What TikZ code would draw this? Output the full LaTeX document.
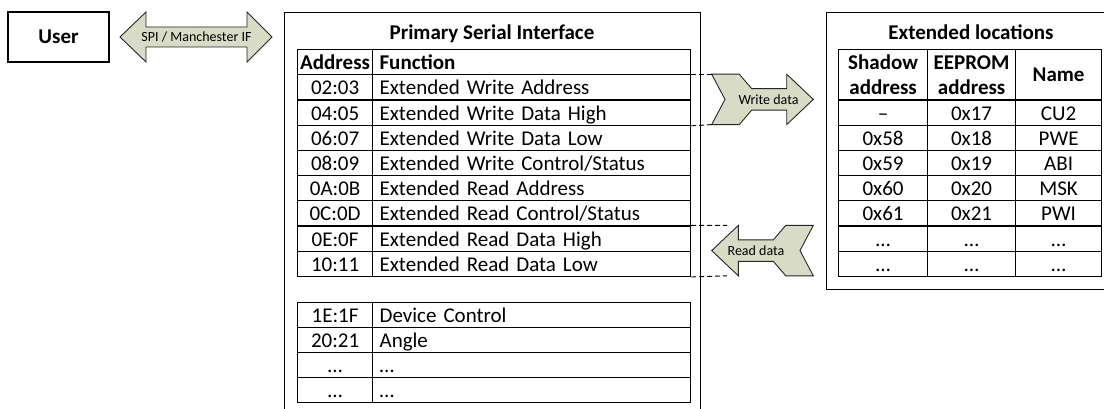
\documentclass[tikz,border=0pt]{standalone}
\usepackage{fontspec}
\setmainfont{Carlito}
\definecolor{arrowfill}{RGB}{216,220,198}
\begin{document}
\begin{tikzpicture}[x=1pt,y=-1pt,
  every node/.style={font=\fontsize{21pt}{25pt}\selectfont},
  frame/.style={draw=black,line width=1.2pt,inner sep=0pt},
  cellbase/.style={draw=black,line width=1.2pt,anchor=north west,inner sep=0pt,minimum height=25.2pt,text height=15pt,text depth=0pt},
  addrcell/.style={cellbase,minimum width=75pt},
  funccell/.style={cellbase,minimum width=318pt,text width=304pt,align=left,inner xsep=7pt},
  hcell/.style={draw=black,line width=1.2pt,anchor=north west,inner sep=0pt,minimum height=50.4pt,align=center,font=\fontsize{21pt}{25pt}\selectfont\bfseries},
  bold/.style={font=\fontsize{21pt}{25pt}\selectfont\bfseries},
  bigarrow/.style={draw=black!85,line width=0.9pt,fill=arrowfill,line join=miter},
  arrowlabel/.style={font=\fontsize{14pt}{16pt}\selectfont,inner sep=0pt},
  link/.style={draw=black,line width=0.9pt,dash pattern=on 5pt off 3pt}
]
\clip (0,0) rectangle (1104,409);
\fill[white] (0,0) rectangle (1104,409);

% User and interface arrow
\node[frame,minimum width=101pt,minimum height=50pt,bold] (user) at (58.5,37) {User};
\draw[bigarrow] (120,37) -- (146,12) -- (146,27) -- (247,27) -- (247,12) -- (272,37)
  -- (247,62) -- (247,47) -- (146,47) -- (146,62) -- cycle;
\node[arrowlabel] (spi) at (196.5,37) {SPI / Manchester IF};

% Primary Serial Interface
\node[frame,anchor=north west,minimum width=416pt,minimum height=402pt] (psi) at (284,12) {};
\node[bold,anchor=base] (psititle) at (492,40) {Primary Serial Interface};

\node[cellbase,minimum width=75pt,bold,text height=15pt] (a0) at (297,49) {Address};
\node[funccell,bold] (f0) at (372,49) {Function};
\foreach \ad/\fn [count=\i] in {02:03/Extended Write Address,04:05/Extended Write Data High,06:07/Extended Write Data Low,08:09/{Extended Write Control/Status},0A:0B/Extended Read Address,0C:0D/{Extended Read Control/Status},0E:0F/Extended Read Data High,10:11/Extended Read Data Low}{
  \node[addrcell] (a\i) at (297,{49+25.2*\i}) {\ad};
  \node[funccell] (f\i) at (372,{49+25.2*\i}) {\fn};
}
\foreach \ad/\fn [count=\i from 0] in {1E:1F/Device Control,20:21/Angle,{…}/{…},{…}/{…}}{
  \node[addrcell,minimum height=25pt] (b\i) at (297,{302+25*\i}) {\ad};
  \node[funccell,minimum height=25pt] (g\i) at (372,{302+25*\i}) {\fn};
}

% Extended locations
\node[frame,anchor=north west,minimum width=300pt,minimum height=277pt] (ext) at (826,12) {};
\node[bold,anchor=base] (exttitle) at (971,40) {Extended locations};
\node[hcell,minimum width=89pt] (h1) at (838,49) {Shadow\\address};
\node[hcell,minimum width=88pt] (h2) at (927,49) {EEPROM\\address};
\node[hcell,minimum width=86pt] (h3) at (1015,49) {Name};
\foreach \sa/\ea/\nm [count=\i from 0] in {{–}/0x17/CU2,0x58/0x18/PWE,0x59/0x19/ABI,0x60/0x20/MSK,0x61/0x21/PWI,{…}/{…}/{…},{…}/{…}/{…}}{
  \node[cellbase,minimum width=89pt] (s\i) at (838,{99.4+25.2*\i}) {\sa};
  \node[cellbase,minimum width=88pt] (e\i) at (927,{99.4+25.2*\i}) {\ea};
  \node[cellbase,minimum width=86pt] (n\i) at (1015,{99.4+25.2*\i}) {\nm};
}

% Write data arrow
\coordinate (wtl) at (711.7,74.2);
\coordinate (wbl) at (711.7,124.6);
\draw[bigarrow] (wtl) -- (739.3,74.2) -- (751.7,88.7) -- (786.7,88.7) -- (786.7,74.2)
  -- (813.3,99.4) -- (786.7,124.6) -- (786.7,110.1) -- (751.7,110.1) -- (739.3,124.6)
  -- (wbl) -- (725,99.4) -- cycle;
\node[arrowlabel] (wd) at (768.5,99.4) {Write data};

% Read data arrow
\coordinate (rdt) at (727,225.4);
\coordinate (rdb) at (727,275.8);
\draw[bigarrow] (813.3,225.4) -- (785.7,225.4) -- (773.3,239.9) -- (738.3,239.9) -- (738.3,225.4)
  -- (711.7,250.6) -- (738.3,275.8) -- (738.3,261.3) -- (773.3,261.3) -- (785.7,275.8)
  -- (813.3,275.8) -- (800,250.6) -- cycle;
\node[arrowlabel] (rd) at (756,250.6) {Read data};

% dashed links
\draw[link] (f1.north east) -- (wtl);
\draw[link] (f2.south east) -- (wbl);
\draw[link] (f7.north east) -- (rdt);
\draw[link] (f8.south east) -- (rdb);
\end{tikzpicture}
\end{document}
